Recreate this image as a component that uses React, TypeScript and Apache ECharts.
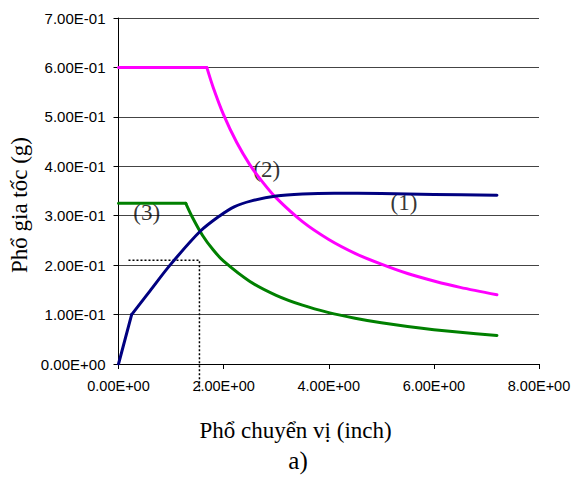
import React, { useEffect, useRef } from "react";
import * as echarts from "echarts";

// Curve (1): capacity curve (displacement, acceleration) — initial elastic segment and the rest
const curve1Start: [number, number][] = [[0, 0], [0.25, 0.1]];
const curve1: [number, number][] = [
  [0.25, 0.1], [0.6, 0.148], [0.98, 0.2], [1.55, 0.268], [1.93, 0.3],
  [2.2, 0.318], [2.53, 0.33], [3.0, 0.34], [3.5, 0.344], [4.1, 0.3455],
  [5.0, 0.345], [6.0, 0.343], [7.2, 0.3415],
];
// Curve (2): elastic demand spectrum — plateau and descending branch
const curve2Flat: [number, number][] = [[0, 0.6], [1.68, 0.6]];
const curve2Down: [number, number][] = [
  [1.68, 0.6], [1.8, 0.56], [2.0, 0.504], [2.25, 0.448], [2.5, 0.403],
  [2.75, 0.367], [3.0, 0.336], [3.5, 0.288], [4.0, 0.252], [4.5, 0.224],
  [5.0, 0.202], [5.5, 0.183], [6.0, 0.168], [6.5, 0.155], [7.2, 0.14],
];
// Curve (3): reduced demand spectrum — plateau and descending branch
const curve3Flat: [number, number][] = [[0, 0.325], [1.28, 0.325]];
const curve3Down: [number, number][] = [
  [1.28, 0.325], [1.4, 0.298], [1.6, 0.26], [1.8, 0.231], [2.0, 0.208],
  [2.5, 0.167], [3.0, 0.139], [3.5, 0.119], [4.0, 0.104], [4.5, 0.0926],
  [5.0, 0.0833], [5.5, 0.0757], [6.0, 0.0694], [6.5, 0.0641], [7.2, 0.0579],
];
// Performance point guide (dotted)
const guide: [number, number][] = [[0.19, 0.21], [1.54, 0.21], [1.54, -0.059]];
// Curve labels
const curveLabels: [number, number, string][] = [
  [5.43, 0.326, "(1)"],
  [2.82, 0.393, "(2)"],
  [0.536, 0.306, "(3)"],
];
const xTitle = "Phổ chuyển vị (inch)";
const yTitle = "Phổ gia tốc (g)";
const caption = "a)";

function sci(v: number): string {
  const [m, e] = v.toExponential(2).split("e");
  const sign = e[0] === "-" ? "-" : "+";
  const digits = e.replace(/^[+-]/, "").padStart(2, "0");
  return m + "E" + sign + digits;
}

export default function App() {
  const ref = useRef<HTMLDivElement>(null);
  useEffect(() => {
    if (!ref.current) return;
    const chart = echarts.init(ref.current, null, { renderer: "svg" });
    const serif = "'Liberation Serif', 'Times New Roman', serif";
    const sans = "'Liberation Sans', Arial, sans-serif";
    const line = (data: [number, number][], color: string, smooth: number) => ({
      type: "line", data, symbol: "none", silent: true,
      smooth,
      lineStyle: { color, width: 3, cap: "round", join: "round" },
    });
    chart.setOption({
      animation: false,
      backgroundColor: "#ffffff",
      grid: { left: 118.5, right: 38, top: 18, bottom: 115, containLabel: false },
      xAxis: {
        type: "value",
        min: 0,
        max: 8,
        interval: 2,
        axisLine: { show: true, lineStyle: { color: "#000", width: 1 } },
        axisTick: { show: true, length: 5, lineStyle: { color: "#000" } },
        axisLabel: { formatter: sci, fontFamily: sans, fontSize: 14.5, color: "#000", margin: 14 },
        splitLine: { show: false },
      },
      yAxis: {
        type: "value",
        min: 0,
        max: 0.7,
        interval: 0.1,
        axisLine: { show: true, lineStyle: { color: "#000", width: 1 } },
        axisTick: { show: true, length: 5, lineStyle: { color: "#000" } },
        axisLabel: { formatter: sci, fontFamily: sans, fontSize: 15, color: "#000", margin: 13 },
        splitLine: { show: true, lineStyle: { color: "#444", width: 1 } },
      },
      series: [
        {
          type: "line", data: guide, symbol: "none", clip: false, silent: true,
          lineStyle: { color: "#000", width: 1.5, type: [2, 2] },
        },
        line(curve2Flat, "#ff00ff", 0),
        line(curve2Down, "#ff00ff", 0.3),
        line(curve3Flat, "#008000", 0),
        line(curve3Down, "#008000", 0.3),
        line(curve1Start, "#000080", 0),
        line(curve1, "#000080", 0.3),
        {
          type: "scatter", data: curveLabels, symbolSize: 0, silent: true,
          label: {
            show: true, position: "inside",
            formatter: (p: any) => p.data[2],
            fontFamily: serif, fontSize: 23, color: "#000",
          },
        },
      ],
      graphic: [
        {
          type: "text", x: 19, y: 205, rotation: Math.PI / 2,
          style: { text: yTitle, font: `23px ${serif}`, fill: "#000", align: "center", verticalAlign: "middle" },
        },
        {
          type: "text", x: 295.5, y: 430,
          style: { text: xTitle, font: `23px ${serif}`, fill: "#000", align: "center", verticalAlign: "middle" },
        },
        {
          type: "text", x: 298, y: 460,
          style: { text: caption, font: `25px ${serif}`, fill: "#000", align: "center", verticalAlign: "middle" },
        },
      ],
    });
    return () => chart.dispose();
  }, []);
  return <div ref={ref} style={{ width: 577, height: 479, position: "absolute", left: 0, top: 0 }} />;
}
